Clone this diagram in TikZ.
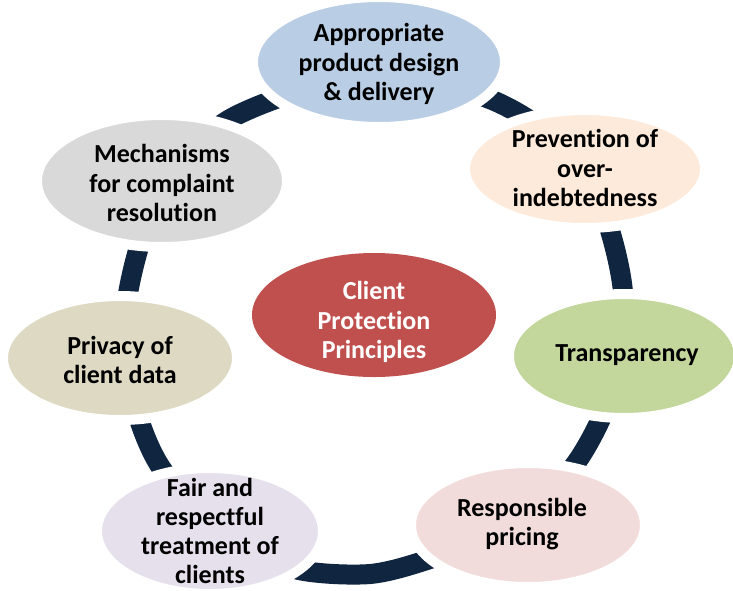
\documentclass[tikz,border=0pt]{standalone}
\usepackage{fontspec}
\setmainfont{Carlito}[Ligatures=NoCommon]
\usetikzlibrary{shapes.geometric}

\definecolor{ringblue}{HTML}{10253F}
\definecolor{fillblue}{HTML}{B9CDE5}
\definecolor{fillpeach}{HTML}{FDEADA}
\definecolor{fillgreen}{HTML}{C3D69B}
\definecolor{fillpink}{HTML}{F2DCDB}
\definecolor{filllilac}{HTML}{E6E0EC}
\definecolor{fillsand}{HTML}{DDD9C3}
\definecolor{fillgrey}{HTML}{D9D9D9}
\definecolor{fillred}{HTML}{C0504D}

\begin{document}
\begin{tikzpicture}[x=1pt, y=-1pt,
  petal/.style={ellipse, draw=white, line width=10pt, inner sep=0pt},
  caption/.style={align=center, inner sep=0pt, text=black,
    font=\fontsize{26}{29.3}\selectfont\bfseries},
  ring/.style={draw=ringblue, line width=20pt}]
\useasboundingbox (0,0) rectangle (733,590);

% the closed band that links the principles
\draw[ring] plot[smooth cycle, tension=0.5] coordinates {
  (375,73) (487,98) (557,141) (601,205) (623,292) (616,380)
  (573,467) (496,533) (430,559) (370,574) (299,570) (246,546)
  (164,472) (131,390) (127,300) (158,198) (230,119)};

% principles around the band (the white rim eats 5pt of each fill)
\node[petal, fill=fillblue,  minimum width=252pt, minimum height=130pt] (design)    at (379,62)  {};
\node[petal, fill=fillpeach, minimum width=240pt, minimum height=118pt] (debt)      at (585,169) {};
\node[petal, fill=fillgreen, minimum width=230pt, minimum height=124pt] (transp)    at (624,356) {};
\node[petal, fill=fillpink,  minimum width=234pt, minimum height=124pt] (pricing)   at (528,525) {};
\node[petal, fill=filllilac, minimum width=226pt, minimum height=126pt] (fair)      at (210,531) {};
\node[petal, fill=fillsand,  minimum width=234pt, minimum height=124pt] (privacy)   at (120,358) {};
\node[petal, fill=fillgrey,  minimum width=250pt, minimum height=132pt] (complaint) at (162,181) {};

% hub
\node[ellipse, fill=fillred, inner sep=0pt, minimum width=244pt, minimum height=124pt] (hub) at (374,315) {};

% texts
\node[caption] (designtxt)    at (379,64)  {Appropriate\\product design\\\& delivery};
\node[caption] (debttxt)      at (585,168) {Prevention of\\over-\\indebtedness};
\node[caption] (transptxt)    at (627,355) {Transparency};
\node[caption] (pricingtxt)   at (522,524) {Responsible\\pricing};
\node[caption] (fairtxt)      at (210,531) {Fair and\\respectful\\treatment of\\clients};
\node[caption] (privacytxt)   at (120,360) {Privacy of\\client data};
\node[caption] (complainttxt) at (162,183) {Mechanisms\\for complaint\\resolution};
\node[caption, text=white] (hubtxt) at (374,322) {Client\\Protection\\Principles};
\end{tikzpicture}
\end{document}
